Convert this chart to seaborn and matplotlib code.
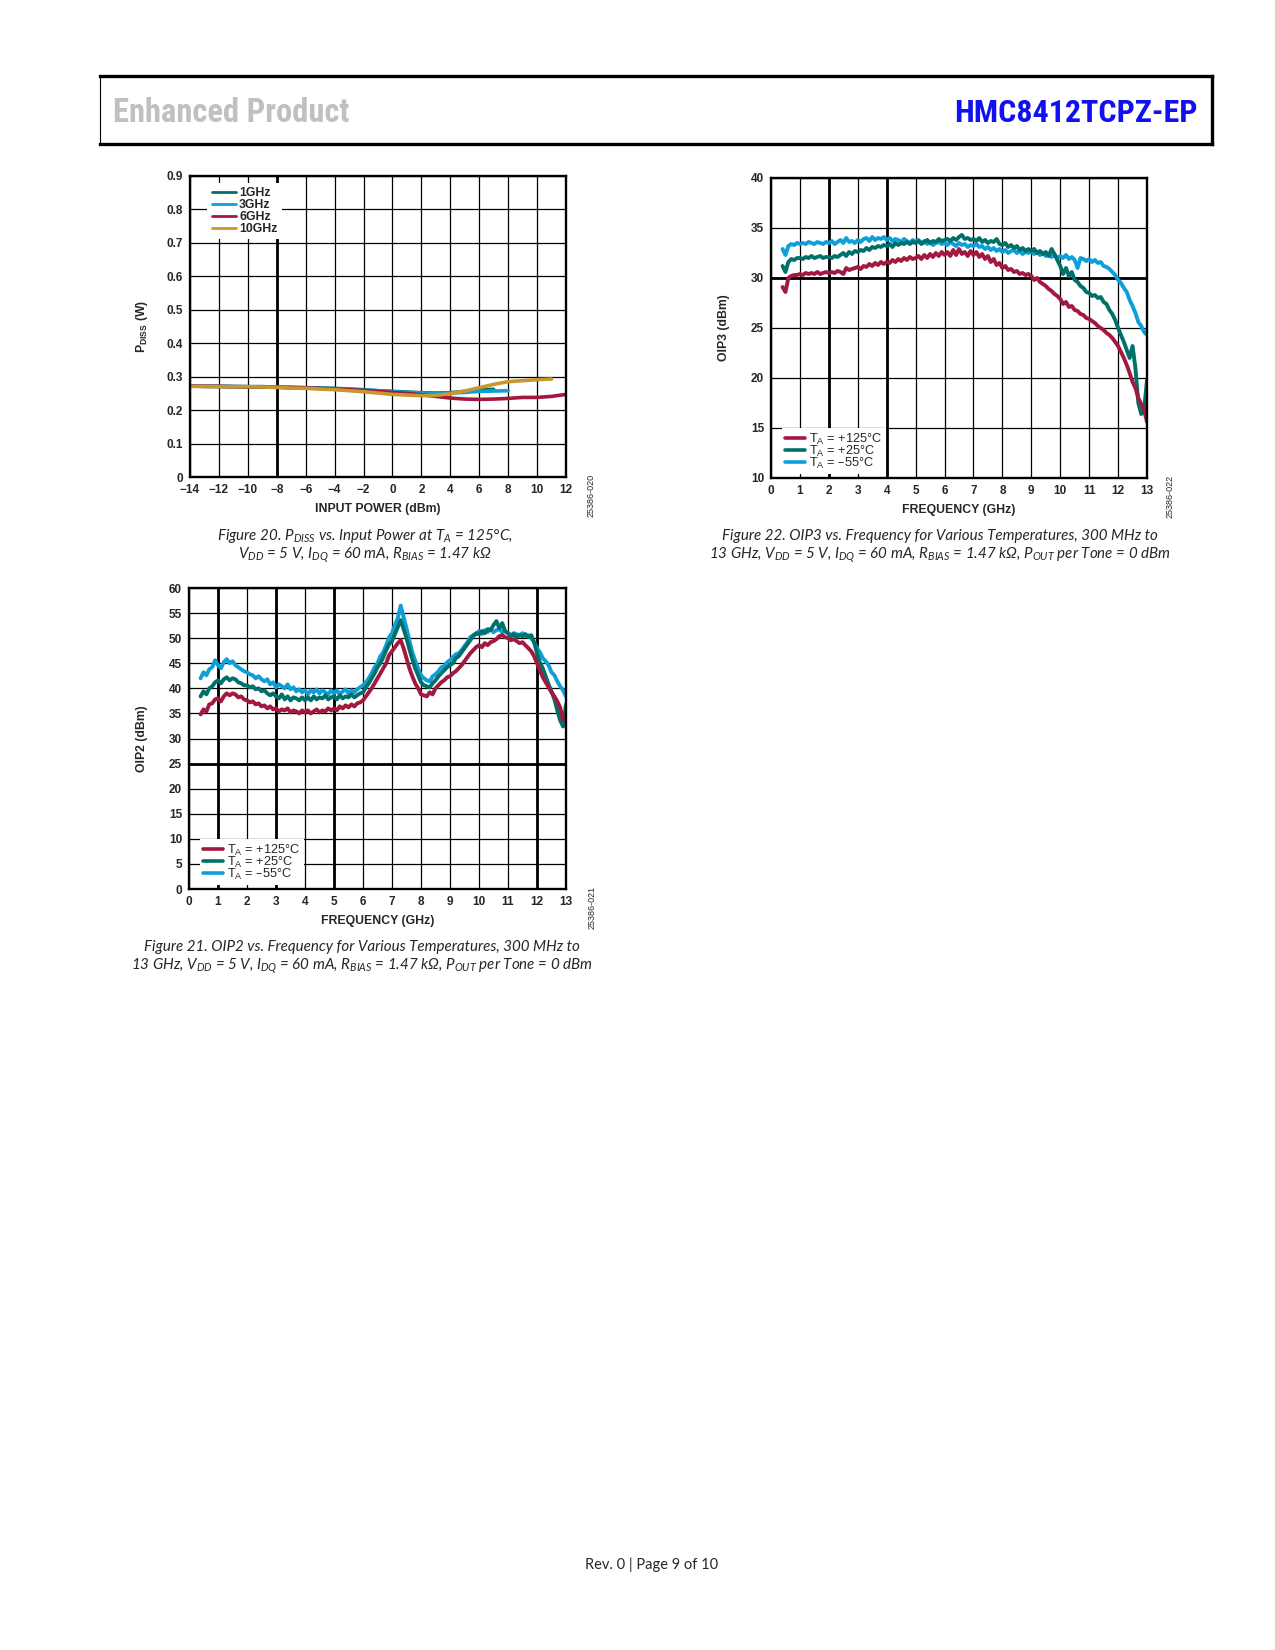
import numpy as np
import matplotlib
matplotlib.use("Agg")
import matplotlib.pyplot as plt
import seaborn as sns
from matplotlib.lines import Line2D
from matplotlib.ticker import FuncFormatter

# ---- Figure 20: PDISS vs input power (W) ----
PIN_DBM = list(range(-14, 13))
PDISS_1GHZ = [0.272, 0.271, 0.271, 0.270, 0.270, 0.270, 0.269, 0.268, 0.267, 0.266,
              0.265, 0.263, 0.261, 0.258, 0.256, 0.254, 0.252, 0.251, 0.252, 0.256,
              0.261, 0.262]
PDISS_3GHZ = [0.273, 0.272, 0.271, 0.271, 0.270, 0.270, 0.269, 0.268, 0.267, 0.265,
              0.264, 0.262, 0.260, 0.258, 0.255, 0.253, 0.251, 0.250, 0.251, 0.253,
              0.256, 0.257, 0.258]
PDISS_6GHZ = [0.272, 0.271, 0.271, 0.270, 0.270, 0.269, 0.268, 0.267, 0.266, 0.265,
              0.263, 0.261, 0.259, 0.256, 0.253, 0.250, 0.246, 0.241, 0.236, 0.233,
              0.232, 0.233, 0.235, 0.238, 0.238, 0.241, 0.247]
PDISS_10GHZ = [0.271, 0.271, 0.270, 0.270, 0.270, 0.269, 0.268, 0.266, 0.265, 0.263,
               0.261, 0.258, 0.255, 0.251, 0.247, 0.245, 0.243, 0.244, 0.249, 0.257,
               0.267, 0.277, 0.285, 0.288, 0.291, 0.293]
PDISS_LABELS = ["1GHz", "3GHz", "6GHz", "10GHz"]

# ---- Figures 21/22: frequency sweep 0.4 GHz to 13 GHz, 0.1 GHz step ----
FREQ_GHZ = [round(0.1 * k, 1) for k in range(4, 131)]

OIP2_M55 = [42.0, 43.2, 42.6, 43.8, 44.2, 45.6,
            44.6, 44.0, 45.2, 45.8, 45.0, 45.4, 44.6, 44.2, 43.8, 43.4,
            43.2, 42.8, 42.6, 42.0, 42.4, 41.8, 41.4, 41.8, 40.8, 41.2,
            40.2, 40.8, 40.4, 40.0, 40.8, 39.8, 40.2, 39.4, 39.8, 39.2,
            39.6, 38.8, 39.6, 39.2, 39.8, 39.0, 39.6, 39.2, 38.8, 39.6,
            39.0, 39.6, 38.8, 39.4, 39.8, 39.0, 39.6, 39.2, 39.8, 40.2,
            40.6, 41.2, 42.0, 43.0, 44.2, 45.0, 46.4, 47.2, 48.6, 50.2,
            51.0, 52.6, 54.0, 56.5, 54.2, 52.0, 49.5, 47.2, 45.5, 44.0,
            42.6, 42.0, 41.6, 41.4, 42.4, 42.8, 43.4, 44.2, 44.4, 45.2,
            45.6, 46.2, 46.8, 47.0, 47.6, 48.4, 49.2, 50.2, 50.6, 50.8,
            51.4, 50.8, 51.6, 51.2, 51.8, 51.2, 51.6, 51.8, 51.2, 51.4,
            51.0, 50.6, 51.0, 50.8, 50.6, 51.0, 50.4, 50.6, 50.0, 49.2,
            48.0, 47.2, 46.0, 45.4, 44.6, 43.2, 42.6, 41.4, 40.4, 39.6,
            38.4]
OIP2_P25 = [38.4, 39.4, 38.8, 40.0, 40.4, 41.2,
            41.6, 41.0, 41.8, 42.2, 41.6, 42.0, 41.8, 41.2, 41.0, 40.6,
            40.6, 40.2, 40.4, 39.8, 40.0, 39.4, 39.6, 39.0, 38.6, 39.0,
            38.4, 38.0, 38.8, 37.8, 38.4, 37.6, 38.2, 38.0, 37.6, 38.2,
            37.6, 38.2, 37.6, 38.4, 37.8, 38.2, 38.0, 38.6, 37.8, 38.2,
            38.4, 37.8, 38.6, 38.0, 38.4, 38.2, 38.8, 38.2, 38.6, 39.0,
            39.2, 40.2, 41.0, 42.0, 43.0, 44.2, 45.0, 46.2, 47.6, 48.8,
            49.4, 50.8, 52.2, 53.6, 51.8, 50.0, 47.8, 45.8, 44.0, 42.6,
            41.2, 40.6, 40.4, 40.2, 41.0, 41.6, 42.4, 43.0, 43.6, 44.2,
            44.6, 45.0, 46.0, 46.4, 47.2, 48.0, 48.8, 49.6, 50.4, 51.0,
            50.8, 51.4, 51.0, 51.8, 51.6, 52.6, 53.4, 52.0, 53.0, 51.4,
            51.0, 50.4, 50.8, 50.2, 50.6, 50.4, 50.8, 50.2, 50.6, 49.2,
            47.0, 45.2, 44.0, 42.4, 40.8, 39.4, 37.8, 35.6, 33.6, 32.4,
            36.8]
OIP2_P125 = [34.8, 35.8, 35.4, 36.8, 37.0, 37.8,
             38.0, 37.4, 38.4, 39.0, 38.6, 39.0, 38.8, 38.2, 38.4, 37.8,
             37.6, 37.2, 37.4, 36.8, 37.0, 36.4, 36.6, 36.0, 36.4, 35.8,
             36.0, 35.4, 35.8, 35.6, 36.0, 35.2, 35.6, 35.4, 35.0, 35.6,
             35.2, 35.6, 35.0, 35.4, 35.8, 35.2, 35.6, 35.4, 36.0, 35.6,
             36.0, 35.6, 36.4, 36.0, 36.6, 36.2, 36.8, 36.4, 37.0, 37.2,
             37.6, 38.4, 39.2, 40.0, 41.0, 42.0, 43.0, 44.0, 45.0, 46.6,
             47.4, 48.2, 49.0, 49.6, 48.0, 46.0, 44.0, 42.4, 41.0, 40.0,
             38.8, 38.6, 38.4, 39.2, 38.8, 40.0, 40.6, 41.2, 41.6, 42.2,
             42.4, 43.0, 43.4, 44.0, 44.6, 45.4, 46.2, 47.0, 47.6, 48.2,
             48.6, 48.2, 49.0, 48.6, 49.2, 49.4, 49.8, 50.4, 50.6, 50.2,
             50.0, 49.6, 49.8, 49.4, 49.0, 49.2, 48.6, 48.0, 47.4, 46.4,
             45.0, 43.6, 42.2, 41.2, 40.2, 39.2, 38.4, 37.4, 36.2, 33.6,
             34.2]

OIP3_M55 = [32.9, 32.3, 33.2, 33.4, 33.3, 33.5,
            33.4, 33.5, 33.4, 33.6, 33.5, 33.4, 33.6, 33.5, 33.4, 33.6,
            33.5, 33.7, 33.4, 33.6, 33.8, 33.5, 34.0, 33.6, 33.7, 33.5,
            33.8, 33.6, 33.9, 34.0, 33.7, 34.1, 33.8, 34.0, 33.9, 34.1,
            33.8, 34.0, 33.7, 33.9, 33.8, 33.6, 33.9, 33.7, 33.5, 33.8,
            33.6, 33.8, 33.5, 33.7, 33.4, 33.6, 33.3, 33.5, 33.6, 33.4,
            33.5, 33.3, 33.6, 33.4, 33.2, 33.5, 33.3, 33.4, 33.1, 33.3,
            33.2, 33.4, 33.1, 33.2, 32.9, 33.1, 32.8, 33.0, 32.7, 32.9,
            32.6, 32.8, 32.5, 32.7, 32.8, 32.5, 32.7, 32.4, 32.6, 32.5,
            32.7, 32.4, 32.6, 32.3, 32.5, 32.2, 32.4, 32.1, 32.3, 32.0,
            32.2, 32.0, 32.3, 31.9, 32.1, 31.8, 31.0, 32.0, 31.9, 31.7,
            31.9, 31.6, 31.8, 31.5, 31.6, 31.2, 31.1, 30.9, 30.6, 30.3,
            29.8, 29.5, 29.0, 28.6, 27.8, 27.2, 26.5, 25.6, 25.2, 24.6,
            24.3]
OIP3_P25 = [31.2, 30.6, 31.6, 31.9, 31.8, 32.0,
            32.0, 31.9, 32.1, 32.0, 32.2, 32.0, 32.1, 32.2, 32.0, 32.1,
            32.1, 32.0, 32.2, 32.1, 32.3, 32.5, 32.2, 32.6, 32.4, 32.7,
            32.6, 32.8, 32.7, 33.0, 32.8, 33.1, 33.0, 33.2, 33.1, 33.3,
            33.2, 33.4, 33.1, 33.5, 33.3, 33.5, 33.4, 33.6, 33.4, 33.6,
            33.5, 33.7, 33.4, 33.6, 33.8, 33.5, 33.7, 33.6, 33.9, 33.7,
            33.8, 33.9, 33.7, 34.0, 33.8, 34.1, 34.3, 33.9, 34.0, 33.8,
            33.9, 33.7, 34.0, 33.6, 33.8, 33.5, 33.7, 33.6, 33.9, 33.4,
            33.3, 33.5, 33.1, 33.3, 33.0, 33.2, 32.8, 33.0, 32.7, 32.9,
            32.7, 32.9, 32.5, 32.7, 32.4, 32.6, 32.2, 32.9, 32.4, 31.8,
            31.2, 30.4, 31.0, 30.2, 30.6, 29.8, 29.6, 29.2, 29.0, 28.6,
            28.5, 28.2, 28.3, 28.0, 28.1, 27.6, 27.4, 26.8, 26.4, 25.8,
            25.0, 24.3, 23.6, 22.8, 22.0, 23.2, 21.0, 17.5, 16.4, 16.8,
            19.8]
OIP3_P125 = [29.1, 28.6, 30.0, 30.2, 30.3, 30.3,
             30.4, 30.3, 30.5, 30.4, 30.5, 30.4, 30.6, 30.4, 30.5, 30.6,
             30.5, 30.6, 30.5, 30.7, 30.6, 30.4, 31.0, 30.8, 30.9, 31.0,
             31.1, 30.9, 31.2, 31.1, 31.4, 31.2, 31.5, 31.3, 31.6, 31.4,
             31.6, 31.5, 31.8, 31.6, 31.9, 31.7, 32.0, 31.8, 32.1, 31.9,
             32.0, 32.2, 31.9, 32.3, 32.0, 32.4, 32.1, 32.5, 32.2, 32.6,
             32.3, 32.6, 32.2, 32.8, 32.3, 32.9, 32.4, 32.6, 32.2, 32.7,
             32.3, 32.6, 32.1, 32.4, 31.9, 32.2, 31.6, 31.9, 31.3, 31.5,
             31.0, 31.2, 30.8, 30.9, 30.6, 30.7, 30.4, 30.5, 30.3, 30.4,
             30.2, 29.8, 30.0, 29.6, 29.4, 29.2, 28.9, 28.7, 28.4, 28.2,
             27.9, 27.4, 27.6, 27.1, 27.2, 26.8, 26.7, 26.4, 26.3, 26.0,
             25.9, 25.7, 25.5, 25.2, 25.0, 24.8, 24.5, 24.3, 24.0, 23.6,
             23.2, 22.6, 22.0, 21.3, 20.5, 19.6, 19.0, 18.0, 17.4, 16.8,
             15.6]
TEMP_LABELS = [r"$\mathregular{T_A}$ = +125°C",
               r"$\mathregular{T_A}$ = +25°C",
               r"$\mathregular{T_A}$ = –55°C"]

for s in (OIP2_M55, OIP2_P25, OIP2_P125, OIP3_M55, OIP3_P25, OIP3_P125):
    assert len(s) == len(FREQ_GHZ)

TEAL = "#00706a"
BLUE = "#0f9fd8"
CRIMSON = "#a2183f"
GOLD = "#c8972e"

W, H = 1275, 1650
NARROW = ["Liberation Sans Narrow", "DejaVu Sans Condensed", "Roboto Condensed",
          "Open Sans Condensed", "Liberation Sans"]

sns.set_style("white")
plt.rcParams.update({
    "font.family": ["Liberation Sans", "DejaVu Sans"],
    "axes.unicode_minus": True,
})

fig = plt.figure(figsize=(W / 100, H / 100), dpi=100)


def px_axes(left, top, right, bottom):
    return fig.add_axes([left / W, 1 - bottom / H,
                         (right - left) / W, (bottom - top) / H])


def style_axes(ax, xlim, ylim, xticks, yticks, heavy_x=(), heavy_y=()):
    ax.set_xlim(xlim)
    ax.set_ylim(ylim)
    ax.set_xticks(xticks)
    ax.set_yticks(yticks)
    ax.set_axisbelow(True)
    ax.grid(True, color="black", lw=0.9)
    for v in heavy_x:
        ax.axvline(v, color="black", lw=2.0, zorder=0.6)
    for v in heavy_y:
        ax.axhline(v, color="black", lw=2.0, zorder=0.6)
    ax.tick_params(length=0, labelsize=8.5, pad=5)
    for lab in ax.get_xticklabels() + ax.get_yticklabels():
        lab.set_fontweight("bold")
    for sp in ax.spines.values():
        sp.set_visible(True)
        sp.set_color("black")
        sp.set_linewidth(1.7)


def fig_text(x, y, s, **kw):
    return fig.text(x / W, 1 - y / H, s, **kw)


def fig_line(x0, y0, x1, y1, lw):
    fig.add_artist(Line2D([x0 / W, x1 / W], [1 - y0 / H, 1 - y1 / H],
                          transform=fig.transFigure, color="black", lw=lw,
                          solid_capstyle="projecting"))


cap_kw = dict(family=["Lato", "DejaVu Sans"], style="italic", fontsize=10.9,
              ha="center", va="center")

# ---- Header ----
fig_line(100, 76, 1212, 76, 2.4)
fig_line(100, 144, 1212, 144, 2.4)
fig_line(100, 76, 100, 144, 0.8)
fig_line(1212, 76, 1212, 144, 2.4)
fig_text(113, 113, "Enhanced Product", color="#c0c0c0", fontsize=23.5,
         fontweight="bold", family=NARROW, ha="left", va="center")
fig_text(1198, 113, "HMC8412TCPZ-EP", color="#1010f0", fontsize=23,
         fontweight="bold", family=NARROW, ha="right", va="center")

# ---- Figure 20 ----
ax1 = px_axes(190, 176, 566, 477)
for vals, lab, col in zip([PDISS_1GHZ, PDISS_3GHZ, PDISS_6GHZ, PDISS_10GHZ],
                          PDISS_LABELS, [TEAL, BLUE, CRIMSON, GOLD]):
    sns.lineplot(x=PIN_DBM[:len(vals)], y=vals, ax=ax1, color=col, lw=2.6,
                 estimator=None, sort=False)
style_axes(ax1, (-14, 12), (0, 0.9), range(-14, 13, 2),
           np.round(np.arange(0, 0.95, 0.1), 1), heavy_x=[-8])
ax1.yaxis.set_major_formatter(FuncFormatter(lambda v, _: "0" if v == 0 else f"{v:.1f}"))
for lab in ax1.get_yticklabels():
    lab.set_fontweight("bold")
ax1.set_xlabel("INPUT POWER (dBm)", fontsize=8.8, fontweight="bold")
ax1.set_ylabel(r"$\mathregular{P_{DISS}}$ (W)", fontsize=8.8, fontweight="bold")
ax1.xaxis.set_label_coords(0.5, -0.085)
ax1.yaxis.set_label_coords(-0.107, 0.5)
h1 = [Line2D([], [], color=c, lw=2.0) for c in [TEAL, BLUE, CRIMSON, GOLD]]
leg = ax1.legend(h1, PDISS_LABELS, loc="upper left", bbox_to_anchor=(0.046, 0.978),
                 borderaxespad=0, borderpad=0.35, labelspacing=0.0,
                 handlelength=2.0, handletextpad=0.25,
                 prop={"size": 8.8, "weight": "bold"},
                 frameon=True, fancybox=False)
leg.get_frame().set_edgecolor("none")
leg.get_frame().set_alpha(1)
fig_text(591, 495, "25386-020", rotation=90, fontsize=6.5, ha="center", va="center")
fig_text(365, 536, r"Figure 20. $\mathregular{P_{DISS}}$ vs. Input Power at "
         r"$\mathregular{T_A}$ = 125°C,", **cap_kw)
fig_text(365, 555, r"$\mathregular{V_{DD}}$ = 5 V, $\mathregular{I_{DQ}}$ = 60 mA, "
         r"$\mathregular{R_{BIAS}}$ = 1.47 kΩ", **cap_kw)


def temp_plot(ax, m55, p25, p125):
    for vals, col in zip([m55, p25, p125], [BLUE, TEAL, CRIMSON]):
        sns.lineplot(x=FREQ_GHZ, y=vals, ax=ax, color=col, lw=2.8,
                     estimator=None, sort=False)
    h = [Line2D([], [], color=c, lw=2.6) for c in [CRIMSON, TEAL, BLUE]]
    lg = ax.legend(h, TEMP_LABELS, loc="lower left", bbox_to_anchor=(0.028, 0.012),
                   borderaxespad=0, borderpad=0.3, labelspacing=-0.25,
                   handlelength=1.5, handletextpad=0.35, fontsize=9.2,
                   frameon=True, fancybox=False)
    lg.get_frame().set_edgecolor("none")
    lg.get_frame().set_alpha(1)


# ---- Figure 21 ----
ax2 = px_axes(189, 588, 566, 889)
temp_plot(ax2, OIP2_M55, OIP2_P25, OIP2_P125)
style_axes(ax2, (0, 13), (0, 60), range(0, 14), range(0, 61, 5),
           heavy_x=[1, 3, 5, 12], heavy_y=[25])
ax2.set_xlabel("FREQUENCY (GHz)", fontsize=8.8, fontweight="bold")
ax2.set_ylabel("OIP2 (dBm)", fontsize=8.8, fontweight="bold")
ax2.xaxis.set_label_coords(0.5, -0.085)
ax2.yaxis.set_label_coords(-0.109, 0.5)
fig_text(592, 907, "25386-021", rotation=90, fontsize=6.5, ha="center", va="center")
fig_text(362, 947, "Figure 21. OIP2 vs. Frequency for Various Temperatures, 300 MHz to",
         **cap_kw)
fig_text(362, 966, r"13 GHz, $\mathregular{V_{DD}}$ = 5 V, $\mathregular{I_{DQ}}$ = 60 mA, "
         r"$\mathregular{R_{BIAS}}$ = 1.47 kΩ, $\mathregular{P_{OUT}}$ per Tone = 0 dBm",
         **cap_kw)

# ---- Figure 22 ----
ax3 = px_axes(771, 178, 1147, 478)
temp_plot(ax3, OIP3_M55, OIP3_P25, OIP3_P125)
style_axes(ax3, (0, 13), (10, 40), range(0, 14), range(10, 41, 5),
           heavy_x=[2, 4], heavy_y=[30])
ax3.set_xlabel("FREQUENCY (GHz)", fontsize=8.8, fontweight="bold")
ax3.set_ylabel("OIP3 (dBm)", fontsize=8.8, fontweight="bold")
ax3.xaxis.set_label_coords(0.5, -0.085)
ax3.yaxis.set_label_coords(-0.109, 0.5)
fig_text(1170, 496, "25386-022", rotation=90, fontsize=6.5, ha="center", va="center")
fig_text(940, 536, "Figure 22. OIP3 vs. Frequency for Various Temperatures, 300 MHz to",
         **cap_kw)
fig_text(940, 555, r"13 GHz, $\mathregular{V_{DD}}$ = 5 V, $\mathregular{I_{DQ}}$ = 60 mA, "
         r"$\mathregular{R_{BIAS}}$ = 1.47 kΩ, $\mathregular{P_{OUT}}$ per Tone = 0 dBm",
         **cap_kw)

# ---- Footer ----
fig_text(652, 1565, "Rev. 0 | Page 9 of 10", family=["Lato", "DejaVu Sans"],
         fontsize=10.5, ha="center", va="center")

fig.savefig("out.png", dpi=100, facecolor="white")
